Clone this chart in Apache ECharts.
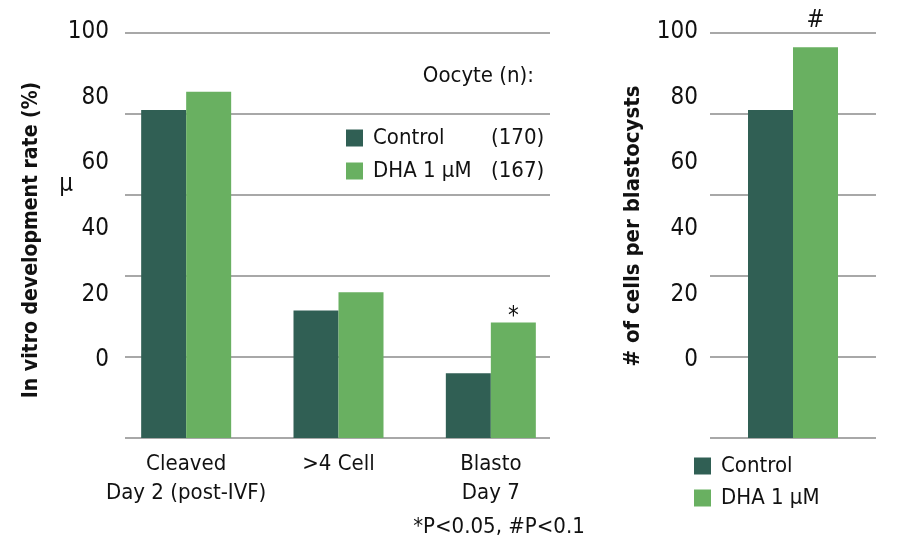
<!DOCTYPE html>
<html>
<head>
<meta charset="utf-8">
<script src="https://cdn.jsdelivr.net/npm/echarts@6/dist/echarts.min.js"></script>
<style>
  html, body { margin: 0; background: #fff; }
  #chart { width: 897px; height: 546px; }
</style>
</head>
<body>
<div id="chart"></div>
<script>
// ---- data ----
const stages = ['Cleaved\nDay 2 (post-IVF)', '>4 Cell', 'Blasto\nDay 7'];
const controlRate = [81, 31.5, 16];
const dhaRate = [85.5, 36, 28.5];
const rateFlags = ['', '', '*'];

const cellGroup = ['Blastocysts'];
const controlCells = [81];
const dhaCells = [96.5];
const cellFlags = ['#'];

const seriesNames = ['Control', 'DHA 1 μM'];
const oocyteN = ['(170)', '(167)'];
const yTicks = [0, 20, 40, 60, 80, 100];

// ---- style ----
const FONT = "'DejaVu Sans Condensed', 'Liberation Sans Narrow', sans-serif";
const DARK = '#305F54';
const LIGHT = '#69B061';
const GRID_GRAY = '#A8A8A8';
const TEXT = '#111111';

const Y_MIN = yTicks[0];
const Y_MAX = yTicks[yTicks.length - 1];
const Y_STEP = yTicks[1] - yTicks[0];

// bar data with a significance mark on top where a flag is set
function flagged(values, flags, distance, dy) {
  return values.map((v, i) => flags[i]
    ? { value: v, label: { show: true, formatter: flags[i], position: 'top', distance: distance,
        offset: [0, dy], color: TEXT, fontFamily: FONT, fontSize: 24 } }
    : v);
}

// value axis that only draws gridlines
function gridAxis(gridIndex) {
  return {
    type: 'value', gridIndex, min: Y_MIN, max: Y_MAX, interval: Y_STEP,
    axisLine: { show: false }, axisTick: { show: false }, axisLabel: { show: false },
    splitLine: { show: true, lineStyle: { color: GRID_GRAY, width: 2 } }
  };
}
// value axis that only draws tick labels (the source figure has them offset from the gridlines)
function labelAxis(gridIndex, margin) {
  return {
    type: 'value', gridIndex, min: Y_MIN, max: Y_MAX, interval: Y_STEP,
    axisLine: { show: false }, axisTick: { show: false }, splitLine: { show: false },
    axisLabel: { color: TEXT, fontFamily: FONT, fontSize: 24, margin }
  };
}
function hiddenAxis(type, gridIndex) {
  return { type, gridIndex, show: false, min: Y_MIN, max: Y_MAX, splitLine: { show: false } };
}

const nByName = {};
seriesNames.forEach((n, i) => { nByName[n] = oocyteN[i]; });

const chart = echarts.init(document.getElementById('chart'), null, { renderer: 'canvas' });

chart.setOption({
  animation: false,
  color: [DARK, LIGHT],
  grid: [
    { left: 110, top: 33, width: 457, height: 405 },  // 0 left bars
    { left: 125, top: 33, width: 425, height: 405 },  // 1 left gridlines
    { left: 125, top: 32, width: 425, height: 328 },  // 2 left tick labels
    { left: 710, top: 33, width: 166, height: 405 },  // 3 right bars + gridlines
    { left: 710, top: 32, width: 166, height: 328 }   // 4 right tick labels
  ],
  xAxis: [
    {
      type: 'category', gridIndex: 0, data: stages,
      axisLine: { show: false }, axisTick: { show: false },
      axisLabel: { interval: 0, color: TEXT, fontFamily: FONT, fontSize: 22, lineHeight: 29, margin: 12 }
    },
    hiddenAxis('value', 1),
    hiddenAxis('value', 2),
    { type: 'category', gridIndex: 3, data: cellGroup, show: false },
    hiddenAxis('value', 4)
  ],
  yAxis: [
    { type: 'value', gridIndex: 0, min: Y_MIN, max: Y_MAX, show: false, splitLine: { show: false } },
    gridAxis(1),
    labelAxis(2, 16),
    gridAxis(3),
    labelAxis(4, 12)
  ],
  legend: [
    {
      data: seriesNames, orient: 'vertical', left: 346, top: 126, padding: 0,
      itemWidth: 17, itemHeight: 17, itemGap: 9, icon: 'rect',
      formatter: name => `{n|${name}}{c|${nByName[name]}}`,
      textStyle: {
        color: TEXT, fontFamily: FONT, fontSize: 22, lineHeight: 24,
        rich: { n: { width: 118, fontFamily: FONT, fontSize: 22, padding: [0, 0, 0, 5] },
                c: { fontFamily: FONT, fontSize: 22 } }
      }
    },
    {
      data: seriesNames, orient: 'vertical', left: 694, top: 454, padding: 0,
      itemWidth: 17, itemHeight: 17, itemGap: 8, icon: 'rect',
      textStyle: { color: TEXT, fontFamily: FONT, fontSize: 22, lineHeight: 24, padding: [0, 0, 0, 5] }
    }
  ],
  series: [
    {
      name: seriesNames[0], type: 'bar', xAxisIndex: 0, yAxisIndex: 0,
      data: controlRate, barWidth: 45, barGap: '0%', itemStyle: { color: DARK }
    },
    {
      name: seriesNames[1], type: 'bar', xAxisIndex: 0, yAxisIndex: 0,
      data: flagged(dhaRate, rateFlags, 0, 6), barWidth: 45, barGap: '0%', itemStyle: { color: LIGHT }
    },
    {
      name: seriesNames[0], type: 'bar', xAxisIndex: 3, yAxisIndex: 3,
      data: controlCells, barWidth: 45, barGap: '0%', itemStyle: { color: DARK }
    },
    {
      name: seriesNames[1], type: 'bar', xAxisIndex: 3, yAxisIndex: 3,
      data: flagged(dhaCells, cellFlags, 14, 0), barWidth: 45, barGap: '0%', itemStyle: { color: LIGHT }
    }
  ],
  graphic: [
    {
      type: 'text', x: 32, y: 240, rotation: Math.PI / 2,
      style: { text: 'In vitro development rate (%)', fill: TEXT, font: `bold 21px ${FONT}`,
               align: 'center', verticalAlign: 'middle' }
    },
    {
      type: 'text', x: 633, y: 226, rotation: Math.PI / 2,
      style: { text: '# of cells per blastocysts', fill: TEXT, font: `bold 22px ${FONT}`,
               align: 'center', verticalAlign: 'middle' }
    },
    {
      type: 'text', x: 66, y: 185,
      style: { text: 'μ', fill: TEXT, font: `24px ${FONT}`, align: 'center', verticalAlign: 'middle' }
    },
    {
      type: 'text', x: 534, y: 76,
      style: { text: 'Oocyte (n):', fill: TEXT, font: `22px ${FONT}`, align: 'right', verticalAlign: 'middle' }
    },
    {
      type: 'text', x: 499, y: 527,
      style: { text: '*P<0.05, #P<0.1', fill: TEXT, font: `22px ${FONT}`, align: 'center', verticalAlign: 'middle' }
    }
  ]
});
</script>
</body>
</html>
